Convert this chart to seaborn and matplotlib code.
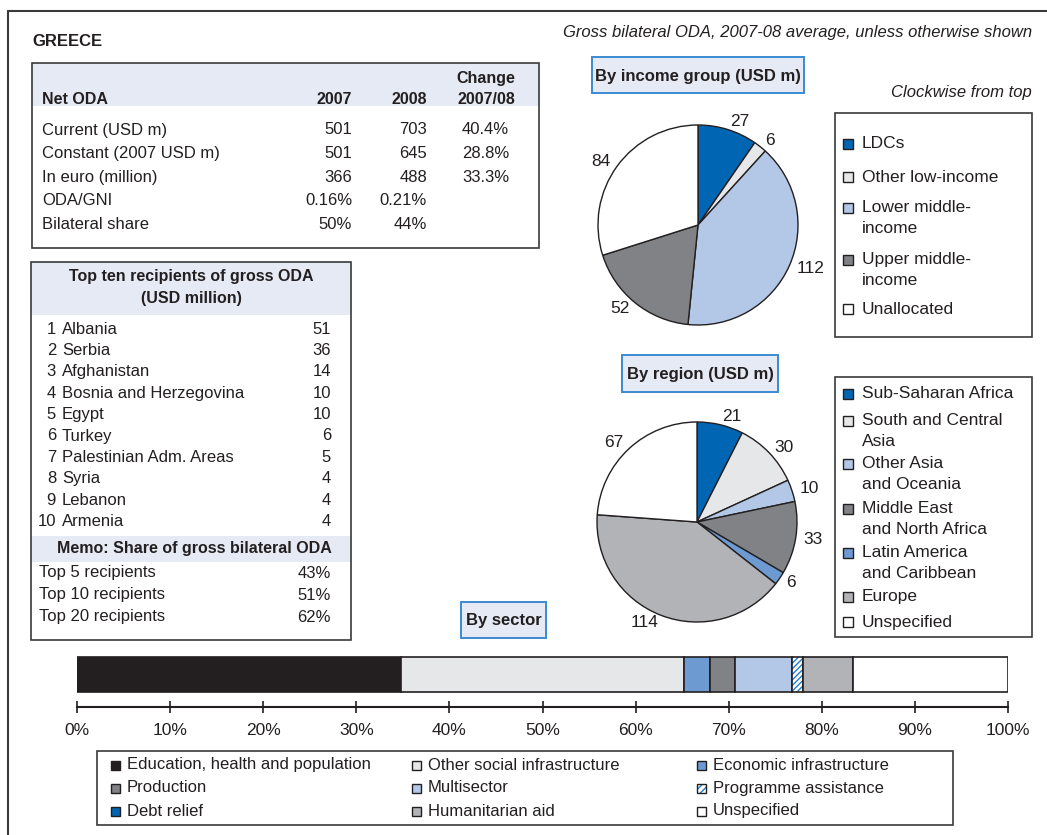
import numpy as np
import matplotlib.pyplot as plt
from matplotlib.patches import Rectangle
import seaborn as sns

# Données
country = "GREECE"
subtitle = "Gross bilateral ODA, 2007-08 average, unless otherwise shown"

oda_rows = ["Current (USD m)", "Constant (2007 USD m)", "In euro (million)", "ODA/GNI", "Bilateral share"]
oda_2007 = ["501", "501", "366", "0.16%", "50%"]
oda_2008 = ["703", "645", "488", "0.21%", "44%"]
oda_change = ["40.4%", "28.8%", "33.3%", "", ""]

recipients = ["Albania", "Serbia", "Afghanistan", "Bosnia and Herzegovina", "Egypt", "Turkey",
              "Palestinian Adm. Areas", "Syria", "Lebanon", "Armenia"]
recipient_values = [51, 36, 14, 10, 10, 6, 5, 4, 4, 4]
memo_labels = ["Top 5 recipients", "Top 10 recipients", "Top 20 recipients"]
memo_values = ["43%", "51%", "62%"]

income_groups = ["LDCs", "Other low-income", "Lower middle-\nincome", "Upper middle-\nincome", "Unallocated"]
income_values = [27, 6, 112, 52, 84]

regions = ["Sub-Saharan Africa", "South and Central\nAsia", "Other Asia\nand Oceania", "Middle East\nand North Africa",
           "Latin America\nand Caribbean", "Europe", "Unspecified"]
region_values = [21, 30, 10, 33, 6, 114, 67]

sectors = ["Education, health and population", "Other social infrastructure", "Economic infrastructure",
           "Production", "Multisector", "Programme assistance",
           "Debt relief", "Humanitarian aid", "Unspecified"]
sector_shares = [34.8, 30.4, 2.8, 2.7, 6.1, 1.2, 0.0, 5.4, 16.6]

# Couleurs
INK = "#231f20"
DARK_BLUE = "#0066b3"
LIGHT_GREY = "#e6e7e8"
LIGHT_BLUE = "#b3c7e6"
DARK_GREY = "#808285"
MID_BLUE = "#6d9bd1"
MID_GREY = "#b1b3b6"
BAND = "#e6eaf5"
BOX_BLUE = "#3b8ad0"

income_colors = [DARK_BLUE, LIGHT_GREY, LIGHT_BLUE, DARK_GREY, "white"]
region_colors = [DARK_BLUE, LIGHT_GREY, LIGHT_BLUE, DARK_GREY, MID_BLUE, MID_GREY, "white"]
sector_colors = [INK, LIGHT_GREY, MID_BLUE, DARK_GREY, LIGHT_BLUE, "white", DARK_BLUE, MID_GREY, "white"]
sector_hatch = [None, None, None, None, None, "//////", None, None, None]

sns.set_theme(style="white")
plt.rcParams["font.family"] = ["Liberation Sans", "DejaVu Sans"]
plt.rcParams["text.color"] = INK

W, H = 1047, 835
FS = 11.5

fig = plt.figure(figsize=(W / 100, H / 100), dpi=100)
fig.patch.set_facecolor("white")
bg = fig.add_axes([0, 0, 1, 1])
bg.set_xlim(0, W)
bg.set_ylim(H, 0)
bg.axis("off")


def px_rect(x, y, w, h):
    return [x / W, (H - y - h) / H, w / W, h / H]


def box(x0, y0, x1, y1, fc="none", ec="#3a3a3a", lw=1.2, z=1):
    bg.add_patch(Rectangle((x0, y0), x1 - x0, y1 - y0, facecolor=fc, edgecolor=ec, lw=lw, zorder=z))


def txt(x, y, s, ha="left", bold=False, italic=False, size=FS, **kw):
    bg.text(x, y, s, ha=ha, va="center", fontsize=size,
            fontweight="bold" if bold else "normal",
            fontstyle="italic" if italic else "normal", **kw)


# Cadre extérieur
bg.plot([8, 8], [11, H], color="#3a3a3a", lw=1.5)
bg.plot([8, W], [11, 11], color="#3a3a3a", lw=1.5)

txt(32, 42, country, bold=True, size=12)
txt(1032, 32, subtitle, ha="right", italic=True, size=12)

# Tableau Net ODA
bg.add_patch(Rectangle((32, 63), 507, 43, facecolor=BAND, edgecolor="none"))
box(32, 63, 539, 248)
txt(42, 99, "Net ODA", bold=True)
txt(352, 99, "2007", ha="right", bold=True)
txt(427, 99, "2008", ha="right", bold=True)
txt(486, 78, "Change", ha="center", bold=True)
txt(486, 99, "2007/08", ha="center", bold=True)
for i, lab in enumerate(oda_rows):
    y = 130 + i * 23.6
    txt(42, y, lab, size=12)
    txt(352, y, oda_2007[i], ha="right", size=12)
    txt(427, y, oda_2008[i], ha="right", size=12)
    txt(509, y, oda_change[i], ha="right", size=12)

# Top dix bénéficiaires
bg.add_patch(Rectangle((31, 262), 320, 53, facecolor=BAND, edgecolor="none"))
bg.add_patch(Rectangle((31, 536), 320, 26, facecolor=BAND, edgecolor="none"))
box(31, 262, 351, 640)
txt(191, 277, "Top ten recipients of gross ODA", ha="center", bold=True)
txt(191, 299, "(USD million)", ha="center", bold=True)
for i, (name, val) in enumerate(zip(recipients, recipient_values)):
    y = 329 + i * 21.4
    txt(56, y, str(i + 1), ha="right", size=12)
    txt(62, y, name, size=12)
    txt(331, y, str(val), ha="right", size=12)
txt(194, 549, "Memo: Share of gross bilateral ODA", ha="center", bold=True)
for i, (lab, val) in enumerate(zip(memo_labels, memo_values)):
    y = 573 + i * 22
    txt(39, y, lab, size=12)
    txt(331, y, val, ha="right", size=12)


# Camemberts
def title_box(x0, y0, x1, y1, s):
    box(x0, y0, x1, y1, fc=BAND, ec=BOX_BLUE, lw=1.4)
    txt((x0 + x1) / 2, (y0 + y1) / 2 + 1, s, ha="center", bold=True, size=12)


def draw_pie(cx, cy, values, colors):
    r = 100
    ax = fig.add_axes(px_rect(cx - 1.25 * r, cy - 1.25 * r, 2.5 * r, 2.5 * r))
    ax.pie(values, colors=colors, labels=[str(v) for v in values], startangle=90,
           counterclock=False, labeldistance=1.08,
           wedgeprops=dict(edgecolor=INK, linewidth=1.0),
           textprops=dict(fontsize=12.5, color=INK))
    ax.set_xlim(-1.25, 1.25)
    ax.set_ylim(-1.25, 1.25)
    ax.set_aspect("equal")
    return ax


def side_legend(x0, y0, x1, y1, labels, colors, ys):
    box(x0, y0, x1, y1)
    for lab, col, y in zip(labels, colors, ys):
        bg.add_patch(Rectangle((843, y - 5), 10, 10, facecolor=col, edgecolor=INK, lw=1, zorder=3))
        n = lab.count("\n")
        bg.text(862, y + n * 10, lab, ha="left", va="center", fontsize=12.5, linespacing=1.45)


title_box(592, 57, 804, 93, "By income group (USD m)")
txt(1032, 92, "Clockwise from top", ha="right", italic=True, size=12)
draw_pie(698, 225, income_values, income_colors)
side_legend(835, 113, 1032, 337, income_groups, income_colors, [144, 177, 208, 260, 309])

title_box(622, 355, 778, 392, "By region (USD m)")
draw_pie(697, 522, region_values, region_colors)
side_legend(835, 377, 1032, 637, regions, region_colors, [394, 421, 464, 509, 553, 597, 622])

# Barre par secteur
title_box(461, 602, 546, 638, "By sector")

bar_ax = fig.add_axes(px_rect(77, 650, 931, 57))
lefts = np.concatenate([[0], np.cumsum(sector_shares)[:-1]])
for share, left, col, hatch in zip(sector_shares, lefts, sector_colors, sector_hatch):
    if share <= 0:
        continue
    if hatch:
        bar_ax.barh(0, share, left=left, height=1, color="white", edgecolor="#1f7fd0",
                    hatch=hatch, linewidth=0)
        bar_ax.barh(0, share, left=left, height=1, color="none", edgecolor=INK, linewidth=1.2)
    else:
        bar_ax.barh(0, share, left=left, height=1, color=col, edgecolor=INK, linewidth=1.2)
bar_ax.set_xlim(0, 100)
bar_ax.set_ylim(-0.5 - 15 / 35, 0.5 + 7 / 35)
bar_ax.set_xticks(np.arange(0, 101, 10))
bar_ax.set_xticklabels([f"{t}%" for t in range(0, 101, 10)], fontsize=12.5, color=INK)
bar_ax.set_yticks([])
for side in ["top", "left", "right"]:
    bar_ax.spines[side].set_visible(False)
bar_ax.spines["bottom"].set_color(INK)
bar_ax.spines["bottom"].set_linewidth(1.5)
bar_ax.tick_params(axis="x", direction="inout", length=9, width=1.2, color=INK, pad=7, bottom=True)
bar_ax.patch.set_alpha(0)

# Légende des secteurs
box(97, 751, 953, 825)
col_x = [111, 412, 697]
row_y = [765, 788, 811]
for i, (lab, col, hatch) in enumerate(zip(sectors, sector_colors, sector_hatch)):
    x = col_x[i % 3]
    y = row_y[i // 3]
    if hatch:
        bg.add_patch(Rectangle((x, y - 4.5), 9, 9, facecolor="white", edgecolor="#1f7fd0",
                               hatch="/////", lw=0, zorder=3))
        bg.add_patch(Rectangle((x, y - 4.5), 9, 9, facecolor="none", edgecolor=INK, lw=1, zorder=4))
    else:
        bg.add_patch(Rectangle((x, y - 4.5), 9, 9, facecolor=col, edgecolor=INK, lw=1, zorder=3))
    txt(x + 16, y, lab, size=12)

fig.savefig("out.png", dpi=100)
